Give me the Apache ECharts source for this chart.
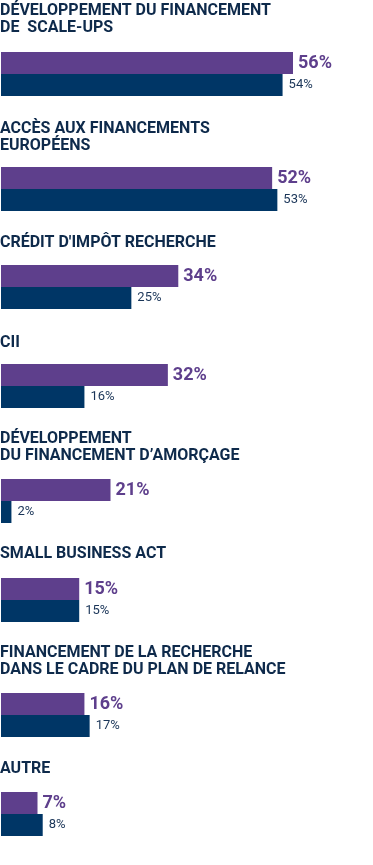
<!DOCTYPE html>
<html>
<head>
<meta charset="utf-8">
<script src="https://cdn.jsdelivr.net/npm/echarts@6/dist/echarts.min.js"></script>
<style>
html,body{margin:0;padding:0;background:#fff;}
#chart{width:373px;height:865px;}
</style>
</head>
<body>
<div id="chart"></div>
<script>
// Data
const categories = [
  'DÉVELOPPEMENT DU FINANCEMENT\nDE  SCALE-UPS',
  'ACCÈS AUX FINANCEMENTS\nEUROPÉENS',
  "CRÉDIT D'IMPÔT RECHERCHE",
  'CII',
  'DÉVELOPPEMENT\nDU FINANCEMENT D’AMORÇAGE',
  'SMALL BUSINESS ACT',
  'FINANCEMENT DE LA RECHERCHE\nDANS LE CADRE DU PLAN DE RELANCE',
  'AUTRE'
];
const valuesPurple = [56, 52, 34, 32, 21, 15, 16, 7];
const valuesNavy = [54, 53, 25, 16, 2, 15, 17, 8];

// Layout (pixel positions of each block)
const capTops = [5, 123, 237, 337, 433, 548, 647, 763];
const barTops = [52, 167, 265, 364, 479, 578, 693, 792];

const FONT = 'Roboto';
const PURPLE = '#5e3f8c';
const NAVY = '#003666';
const TITLE_COLOR = '#0e2a4b';

const grids = [], xAxes = [], yAxes = [], series = [], titles = [];
categories.forEach((cat, i) => {
  titles.push({
    text: cat,
    left: 0,
    top: capTops[i] - 3,
    padding: 0,
    textStyle: {fontFamily: FONT, fontSize: 16, fontWeight: 'bold', color: TITLE_COLOR, lineHeight: 17}
  });
  grids.push({left: 1, top: barTops[i], width: 365, height: 44});
  xAxes.push({gridIndex: i, type: 'value', min: 0, max: 70, show: false});
  yAxes.push({gridIndex: i, type: 'category', data: [cat], inverse: true, show: false});
  series.push({
    type: 'bar', xAxisIndex: i, yAxisIndex: i, data: [valuesPurple[i]],
    barWidth: 22, barGap: '0%',
    itemStyle: {color: PURPLE},
    label: {show: true, position: 'right', distance: 5, formatter: '{c}%',
      fontFamily: FONT, fontSize: 18, fontWeight: 'bold', color: PURPLE},
    silent: true
  });
  series.push({
    type: 'bar', xAxisIndex: i, yAxisIndex: i, data: [valuesNavy[i]],
    barWidth: 22, barGap: '0%',
    itemStyle: {color: NAVY},
    label: {show: true, position: 'right', distance: 6, formatter: '{c}%',
      fontFamily: FONT, fontSize: 13, color: '#1a3558'},
    silent: true
  });
});

const chart = echarts.init(document.getElementById('chart'), null, {renderer: 'canvas'});
chart.setOption({
  animation: false,
  title: titles,
  grid: grids,
  xAxis: xAxes,
  yAxis: yAxes,
  series: series
});
</script>
</body>
</html>
